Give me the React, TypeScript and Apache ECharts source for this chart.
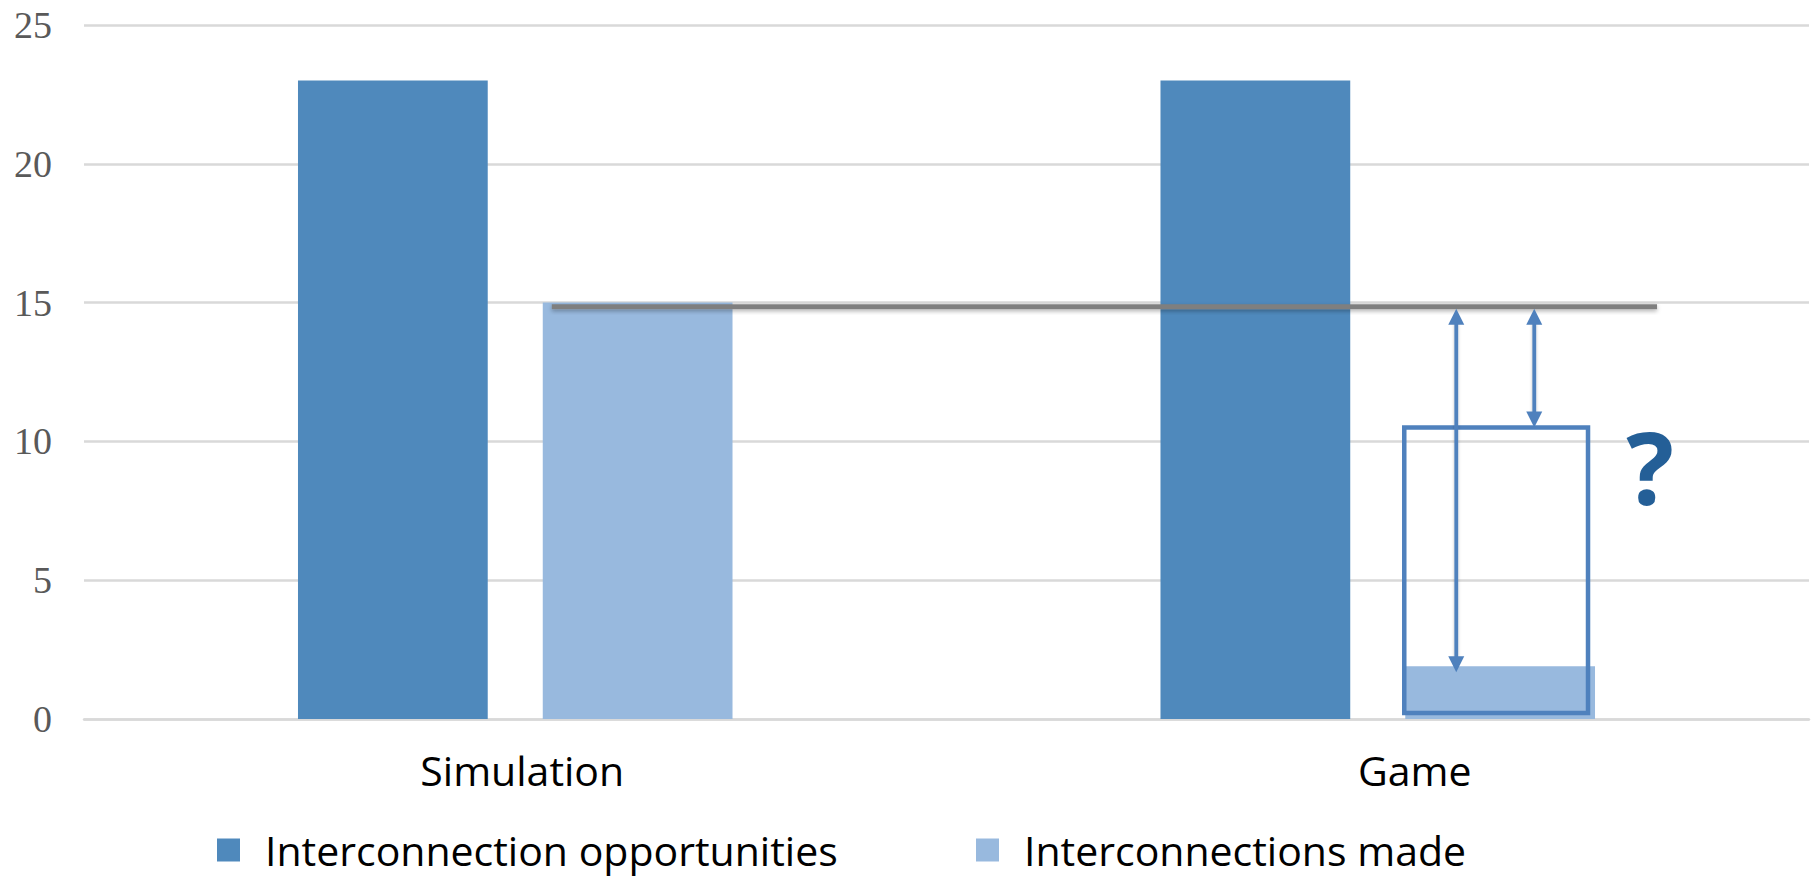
import React, { useEffect, useRef } from "react";
import * as echarts from "echarts";

// Categories and measured values
const categories = ["Simulation", "Game"];
const opportunities = [23, 23];
const made = [15, 1.9];

// Annotation values
const referenceLevel = 14.85; // guide line carried over from the simulation result
const gameExpected = 10.5; // outlined "expected" bar for the game

// Value axis
const yMin = 0;
const yMax = 25;
const yStep = 5;

const seriesNames = ["Interconnection opportunities", "Interconnections made"];

const DARK = "#4f89bc";
const LIGHT = "#98b9de";
const ACCENT = "#4f81bd";
const BAR_WIDTH = 0.22;
const BAR_GAP = 0.29;
const TEXT_FONT = "'Open Sans', 'Noto Sans', sans-serif";

// Vertical double-headed arrow; the shaft is a thin rect so its shadow renders
function arrow(x: number, y1: number, y2: number) {
  const head = 16;
  const half = 8;
  const w = 3.8;
  return [
    {
      type: "rect",
      shape: { x: x - w / 2, y: y1 + head - 2, width: w, height: y2 - y1 - 2 * head + 4 },
      style: { fill: ACCENT, shadowBlur: 3, shadowOffsetY: 1, shadowColor: "rgba(0,0,0,0.25)" },
    },
    {
      type: "polygon",
      shape: { points: [[x, y1], [x - half, y1 + head], [x + half, y1 + head]] },
      style: { fill: ACCENT },
    },
    {
      type: "polygon",
      shape: { points: [[x, y2], [x - half, y2 - head], [x + half, y2 - head]] },
      style: { fill: ACCENT },
    },
  ];
}

function renderAnnotation(params: any, api: any) {
  const gameIdx = api.value(0);
  const madeVal = api.value(1);
  const expectedVal = api.value(2);
  const refVal = api.value(3);

  const base = api.coord([gameIdx, 0]);
  const simCenter = api.coord([0, 0])[0];
  const band = api.size([1, 0])[0];
  const barW = band * BAR_WIDTH;
  const gap = barW * BAR_GAP;
  const slotLeft = base[0] + gap / 2;

  const yRef = api.coord([gameIdx, refVal])[1];
  const yExp = api.coord([gameIdx, expectedVal])[1];
  const yMade = api.coord([gameIdx, madeVal])[1];

  const lineStart = simCenter + gap / 2 + 9;
  const lineEnd = slotLeft + barW + 62;

  const children: any[] = [
    {
      type: "rect",
      shape: { x: lineStart, y: yRef - 2.5, width: lineEnd - lineStart, height: 5 },
      style: {
        fill: "#7f7f7f",
        shadowBlur: 4,
        shadowOffsetY: 2,
        shadowColor: "rgba(0,0,0,0.3)",
      },
    },
    {
      type: "rect",
      shape: { x: slotLeft - 1, y: yExp, width: barW - 6, height: base[1] - 6 - yExp },
      style: { fill: "none", stroke: ACCENT, lineWidth: 4.5 },
    },
    ...arrow(slotLeft + 51, yRef + 2, yMade + 6),
    ...arrow(slotLeft + 129, yRef + 2, yExp),
    {
      type: "text",
      x: slotLeft + barW + 55,
      y: yExp + 38,
      style: {
        text: "?",
        fill: "#245f97",
        font: `bold 100px ${TEXT_FONT}`,
        align: "center",
        verticalAlign: "middle",
      },
    },
  ];
  return { type: "group", children };
}

const legendText = {
  fontFamily: TEXT_FONT,
  fontSize: 41,
  lineHeight: 44,
  color: "#000",
  padding: [0, 0, 0, 20],
};

export default function App() {
  const ref = useRef<HTMLDivElement>(null);

  useEffect(() => {
    if (!ref.current) return;
    const chart = echarts.init(ref.current, undefined, { renderer: "svg" });
    chart.setOption({
      animation: false,
      backgroundColor: "#ffffff",
      grid: { left: 84, right: 7, top: 25, bottom: 158, containLabel: false },
      legend: [
        {
          data: [seriesNames[0]],
          left: 212,
          top: 823,
          icon: "rect",
          itemWidth: 23,
          itemHeight: 23,
          textStyle: legendText,
        },
        {
          data: [seriesNames[1]],
          left: 971,
          top: 823,
          icon: "rect",
          itemWidth: 23,
          itemHeight: 23,
          textStyle: legendText,
        },
      ],
      xAxis: {
        type: "category",
        data: categories,
        axisLine: { show: true, lineStyle: { color: "#d9d9d9", width: 2.5 } },
        axisTick: { show: false },
        axisLabel: {
          margin: 30,
          formatter: (v: string) => (v === "Game" ? `{g|${v}}` : `{s|${v}}`),
          rich: {
            s: { fontFamily: TEXT_FONT, fontSize: 41, color: "#000", padding: [0, 0, 0, 14] },
            g: { fontFamily: TEXT_FONT, fontSize: 41, color: "#000", padding: [0, 0, 0, 74] },
          },
        },
      },
      yAxis: {
        type: "value",
        min: yMin,
        max: yMax,
        interval: yStep,
        axisLine: { show: false },
        axisTick: { show: false },
        splitLine: { lineStyle: { color: "#d9d9d9", width: 2.5 } },
        axisLabel: {
          margin: 32,
          fontFamily: "'Liberation Serif', 'Times New Roman', serif",
          fontSize: 38,
          color: "#595959",
        },
      },
      series: [
        {
          name: seriesNames[0],
          type: "bar",
          data: opportunities,
          barWidth: `${BAR_WIDTH * 100}%`,
          barGap: `${BAR_GAP * 100}%`,
          itemStyle: { color: DARK },
        },
        {
          name: seriesNames[1],
          type: "bar",
          data: made,
          barWidth: `${BAR_WIDTH * 100}%`,
          barGap: `${BAR_GAP * 100}%`,
          itemStyle: { color: LIGHT },
        },
        {
          name: "annotation",
          type: "custom",
          data: [[1, made[1], gameExpected, referenceLevel]],
          renderItem: renderAnnotation,
          clip: false,
          z: 5,
          silent: true,
        },
      ],
    });
    return () => chart.dispose();
  }, []);

  return (
    <div
      ref={ref}
      style={{ position: "absolute", left: 0, top: 0, width: 1816, height: 877 }}
    />
  );
}
